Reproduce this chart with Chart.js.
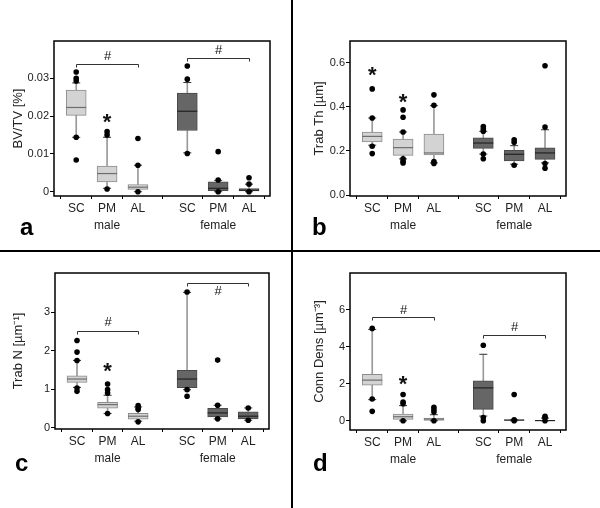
<!DOCTYPE html>
<html>
<head>
<meta charset="utf-8">
<script src="https://cdn.jsdelivr.net/npm/chart.js@4.4.0/dist/chart.umd.min.js"></script>
<style>
  body { margin: 0; background: #fff; }
  #fig { position: relative; width: 600px; height: 508px; background: #fff; overflow: hidden;
         font-family: 'Liberation Sans', Arial, sans-serif; }
  #fig canvas { position: absolute; }
  .vline { position: absolute; left: 291px; top: 0; width: 2px; height: 508px; background: #000; }
  .hline { position: absolute; left: 0; top: 250px; width: 600px; height: 2px; background: #000; }
  .tag { position: absolute; font-weight: bold; font-size: 24px; line-height: 24px; color: #000; }
</style>
</head>
<body>
<div id="fig">
  <canvas id="chartA" width="291" height="250" style="left:0;top:0"></canvas>
  <canvas id="chartB" width="307" height="250" style="left:293px;top:0"></canvas>
  <canvas id="chartC" width="291" height="256" style="left:0;top:252px"></canvas>
  <canvas id="chartD" width="307" height="256" style="left:293px;top:252px"></canvas>
  <div class="vline"></div>
  <div class="hline"></div>
  <div class="tag" style="left:20px;top:215px">a</div>
  <div class="tag" style="left:312px;top:215px">b</div>
  <div class="tag" style="left:15px;top:451px">c</div>
  <div class="tag" style="left:313px;top:451px">d</div>
</div>

<script>
// Groups on the x axis
const positions = [1, 2, 3, 4.6, 5.6, 6.6];
const siteLabels = ['SC', 'PM', 'AL', 'SC', 'PM', 'AL'];
const sexLabels = ['', 'male', '', '', 'female', ''];
const sexOfBox = ['m', 'm', 'm', 'f', 'f', 'f'];

// a: BV/TV
const bvtvQ1 = [0.0202, 0.0026, 0.0006, 0.0162, 0.0003, 0.0002];
const bvtvQ3 = [0.0269, 0.0068, 0.0019, 0.0261, 0.0026, 0.0008];
const bvtvMed = [0.0223, 0.0048, 0.0012, 0.0213, 0.0009, 0.0004];
const bvtvLo = [0.0144, 0.0009, 0.0000, 0.0103, 0.0000, 0.0000];
const bvtvHi = [0.0288, 0.0144, 0.0070, 0.0289, 0.0030, 0.0020];
const bvtvOut = [[0.0317, 0.0300, 0.0293, 0.0144, 0.0084], [0.0159, 0.0150, 0.0007], [0.0141, 0.0070, 0.0],
                 [0.0333, 0.0298, 0.0101], [0.0106, 0.0031, 0.0], [0.0037, 0.0020, 0.0]];
const bvtvTicks = [0, 0.01, 0.02, 0.03];
const bvtvTickLabels = ['0', '0.01', '0.02', '0.03'];
const bvtvBrackets = [[1, 3, 0.0337, 0.0357], [4.6, 6.6, 0.0355, 0.0374]]; // from, to, level, '#' level
const bvtvStars = [[2, 0.0198]];

// b: Trab Th
const thQ1 = [0.241, 0.180, 0.182, 0.212, 0.155, 0.162];
const thQ3 = [0.286, 0.254, 0.277, 0.259, 0.203, 0.214];
const thMed = [0.266, 0.215, 0.191, 0.236, 0.185, 0.191];
const thLo = [0.226, 0.164, 0.146, 0.186, 0.140, 0.146];
const thHi = [0.349, 0.286, 0.405, 0.289, 0.224, 0.296];
const thOut = [[0.481, 0.349, 0.221, 0.188], [0.386, 0.353, 0.286, 0.164, 0.152, 0.146], [0.454, 0.407, 0.152, 0.143],
               [0.311, 0.299, 0.289, 0.186, 0.165], [0.251, 0.239, 0.135], [0.586, 0.308, 0.143, 0.122]];
const thTicks = [0, 0.2, 0.4, 0.6];
const thTickLabels = ['0.0', '0.2', '0.4', '0.6'];
const thBrackets = [];
const thStars = [[1, 0.567], [2, 0.447]];

// c: Trab N
const nQ1 = [1.181, 0.509, 0.224, 1.043, 0.284, 0.233];
const nQ3 = [1.353, 0.664, 0.379, 1.491, 0.509, 0.414];
const nMed = [1.267, 0.603, 0.302, 1.267, 0.388, 0.302];
const nLo = [1.05, 0.371, 0.172, 0.991, 0.233, 0.198];
const nHi = [1.75, 0.845, 0.543, 3.517, 0.586, 0.517];
const nOut = [[2.267, 1.966, 1.75, 1.034, 0.948], [1.138, 0.991, 0.905, 0.371], [0.578, 0.517, 0.474, 0.155],
              [3.526, 0.991, 0.819], [1.759, 0.586, 0.233], [0.517, 0.198]];
const nTicks = [0, 1, 2, 3];
const nTickLabels = ['0', '1', '2', '3'];
const nBrackets = [[1, 3, 2.517, 2.73], [4.6, 6.6, 3.767, 3.53]];
const nStars = [[2, 1.61]];

// d: Conn Dens
const cdQ1 = [1.927, 0.073, 0.018, 0.618, 0.0, 0.0];
const cdQ3 = [2.509, 0.364, 0.145, 2.164, 0.055, 0.02];
const cdMed = [2.2, 0.218, 0.09, 1.78, 0.036, 0.01];
const cdLo = [1.145, 0, 0, 0.255, 0, 0];
const cdHi = [4.945, 0.818, 0.327, 3.6, 0.055, 0.145];
const cdOut = [[5.0, 1.18, 0.509], [1.418, 1.018, 0.927, 0.0], [0.727, 0.6, 0.47, 0.0],
               [4.09, 0.18, 0.0], [1.418, 0.05, 0.0], [0.236, 0.18, 0.0]];
const cdTicks = [0, 2, 4, 6];
const cdTickLabels = ['0', '2', '4', '6'];
const cdBrackets = [[1, 3, 5.6, 6.0], [4.6, 6.6, 4.67, 5.05]];
const cdStars = [[2, 2.27]];

const FONT = "'Liberation Sans', Arial, sans-serif";

// Frame round the plot area, brackets with '#' and the '*' marks
const annotations = {
  id: 'annotations',
  afterDatasetsDraw(chart, args, opts) {
    const { ctx, chartArea: a, scales: { x, y } } = chart;
    ctx.save();
    ctx.strokeStyle = '#000';
    ctx.lineWidth = 1.5;
    ctx.strokeRect(a.left, a.top, a.right - a.left, a.bottom - a.top);

    ctx.strokeStyle = '#333';
    ctx.lineWidth = 1;
    ctx.fillStyle = '#111';
    ctx.textAlign = 'center';
    opts.brackets.forEach(([x1, x2, level, hashLevel]) => {
      const px1 = Math.round(x.getPixelForValue(x1)) + 0.5;
      const px2 = Math.round(x.getPixelForValue(x2)) + 0.5;
      const py = Math.round(y.getPixelForValue(level)) + 0.5;
      ctx.beginPath();
      ctx.moveTo(px1, py + 3);
      ctx.lineTo(px1, py);
      ctx.lineTo(px2, py);
      ctx.lineTo(px2, py + 3);
      ctx.stroke();
      ctx.font = '13px ' + FONT;
      ctx.textBaseline = 'middle';
      ctx.fillText('#', (px1 + px2) / 2, y.getPixelForValue(hashLevel));
    });
    opts.stars.forEach(([sx, sy]) => {
      ctx.font = 'bold 22px ' + FONT;
      ctx.textBaseline = 'alphabetic';
      ctx.fillText('*', x.getPixelForValue(sx), y.getPixelForValue(sy) + 0.57 * 22);
    });
    ctx.restore();
  }
};

function makeBoxChart(canvasId, p) {
  const el = document.getElementById(canvasId);
  const w = el.width, h = el.height;
  const boxFill = sexOfBox.map(s => s === 'm' ? '#d3d3d3' : '#666666');
  const boxLine = sexOfBox.map(s => s === 'm' ? '#8c8c8c' : '#4a4a4a');
  const medLine = sexOfBox.map(s => s === 'm' ? '#6e6e6e' : '#222222');
  const caps = positions.map((x, i) => ({ x, y: p.lo[i] }))
    .concat(positions.map((x, i) => ({ x, y: p.hi[i] })));
  const outliers = p.out.flatMap((vals, i) => vals.map(v => ({ x: positions[i], y: v })));

  return new Chart(el, {
    type: 'bar',
    data: {
      datasets: [
        {
          label: 'lower whisker',
          data: positions.map((x, i) => ({ x, y: [p.lo[i], p.q1[i]] })),
          backgroundColor: '#9a9a9a', barThickness: 1, grouped: false, order: 6
        },
        {
          label: 'upper whisker',
          data: positions.map((x, i) => ({ x, y: [p.q3[i], p.hi[i]] })),
          backgroundColor: '#9a9a9a', barThickness: 1, grouped: false, order: 5
        },
        {
          label: 'box',
          data: positions.map((x, i) => ({ x, y: [p.q1[i], p.q3[i]] })),
          backgroundColor: boxFill, borderColor: boxLine, borderWidth: 1, borderSkipped: false,
          barThickness: 20, grouped: false, order: 4
        },
        {
          type: 'scatter', label: 'median',
          data: positions.map((x, i) => ({ x, y: p.med[i] })),
          pointStyle: 'line', pointRadius: 10, pointBorderColor: medLine, pointBorderWidth: 1.2, order: 3
        },
        {
          type: 'scatter', label: 'caps', data: caps,
          pointStyle: 'line', pointRadius: 4, pointBorderColor: '#333', pointBorderWidth: 1, order: 2
        },
        {
          type: 'scatter', label: 'outliers', data: outliers,
          pointStyle: 'circle', pointRadius: 2.8, pointBackgroundColor: '#000', pointBorderWidth: 0, order: 1
        }
      ]
    },
    options: {
      animation: false,
      responsive: false,
      devicePixelRatio: 1,
      layout: { padding: { left: 0, top: p.area.top, right: w - p.area.right, bottom: 0 } },
      plugins: {
        legend: { display: false },
        tooltip: { enabled: false },
        annotations: { brackets: p.brackets, stars: p.stars }
      },
      scales: {
        x: {
          type: 'linear', min: 0.28, max: 7.28, offset: false,
          afterBuildTicks: s => { s.ticks = positions.map(v => ({ value: v })); },
          afterFit: s => { s.height = h - p.area.bottom; },
          grid: { drawOnChartArea: false, drawTicks: true, tickLength: 3, color: '#000' },
          border: { display: false },
          ticks: {
            autoSkip: false, maxRotation: 0, padding: 1, color: '#222',
            font: { family: FONT, size: 12, lineHeight: 1.4 },
            callback: (v, i) => sexLabels[i] ? [siteLabels[i], sexLabels[i]] : siteLabels[i]
          }
        },
        y: {
          min: p.yMin, max: p.yMax,
          afterBuildTicks: s => { s.ticks = p.ticks.map(v => ({ value: v })); },
          afterFit: s => { s.width = p.area.left; },
          grid: { drawOnChartArea: false, drawTicks: true, tickLength: 4, color: '#000' },
          border: { display: false },
          ticks: {
            padding: 1, color: '#222',
            font: { family: FONT, size: 11 },
            callback: (v, i) => p.tickLabels[i]
          },
          title: {
            display: true, text: p.title, color: '#222',
            font: { family: FONT, size: 13 },
            padding: { top: p.titlePad, bottom: 0 }
          }
        }
      }
    },
    plugins: [annotations]
  });
}

makeBoxChart('chartA', {
  q1: bvtvQ1, q3: bvtvQ3, med: bvtvMed, lo: bvtvLo, hi: bvtvHi, out: bvtvOut,
  ticks: bvtvTicks, tickLabels: bvtvTickLabels, brackets: bvtvBrackets, stars: bvtvStars,
  yMin: -0.00114, yMax: 0.0399, title: 'BV/TV [%]', titlePad: 11,
  area: { left: 54, top: 41, right: 270, bottom: 196 }
});

makeBoxChart('chartB', {
  q1: thQ1, q3: thQ3, med: thMed, lo: thLo, hi: thHi, out: thOut,
  ticks: thTicks, tickLabels: thTickLabels, brackets: thBrackets, stars: thStars,
  yMin: -0.004, yMax: 0.698, title: 'Trab Th [µm]', titlePad: 19,
  area: { left: 57, top: 41, right: 273, bottom: 196 }
});

makeBoxChart('chartC', {
  q1: nQ1, q3: nQ3, med: nMed, lo: nLo, hi: nHi, out: nOut,
  ticks: nTicks, tickLabels: nTickLabels, brackets: nBrackets, stars: nStars,
  yMin: -0.03, yMax: 4.02, title: 'Trab N [µm\u207B\u00B9]', titlePad: 11,
  area: { left: 55, top: 21, right: 269, bottom: 177 }
});

makeBoxChart('chartD', {
  q1: cdQ1, q3: cdQ3, med: cdMed, lo: cdLo, hi: cdHi, out: cdOut,
  ticks: cdTicks, tickLabels: cdTickLabels, brackets: cdBrackets, stars: cdStars,
  yMin: -0.5, yMax: 8, title: 'Conn Dens [µm\u207B\u00B3]', titlePad: 19,
  area: { left: 57, top: 21, right: 273, bottom: 178 }
});
</script>
</body>
</html>
